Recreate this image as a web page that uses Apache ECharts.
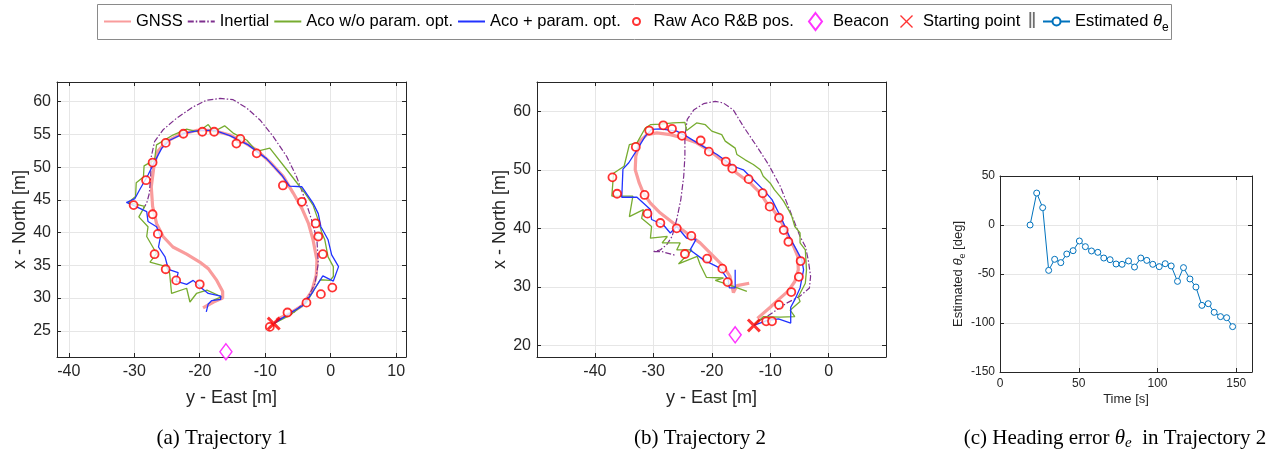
<!DOCTYPE html>
<html>
<head>
<meta charset="utf-8">
<script src="https://cdn.jsdelivr.net/npm/echarts@6/dist/echarts.min.js"></script>
<style>
  html, body { margin: 0; background: #fff; }
  #chart { width: 1283px; height: 449px; }
</style>
</head>
<body>
<div id="chart"></div>
<script>
// ---- Trajectory 1 : [East, North] in metres ----
const t1Gnss = [[-8.3,26.7],[-6.2,27.7],[-4.4,28.8],[-2.9,31.0],[-2.2,33.5],[-2.1,35.8],[-2.7,38.9],[-3.4,41.4],[-4.4,43.7],[-5.7,46.0],[-7.2,48.5],[-9.3,50.8],[-11.3,52.6],[-13.4,53.9],[-15.4,54.9],[-17.9,55.6],[-20.5,55.6],[-23.0,55.0],[-25.1,53.9],[-26.4,52.4],[-27.0,50.1],[-27.4,47.0],[-27.2,44.0],[-26.6,41.4],[-25.6,39.4],[-24.1,37.8],[-22.0,36.7],[-20.0,35.5],[-18.7,34.5],[-17.4,32.7],[-16.5,31.0],[-16.5,30.0],[-17.9,29.4],[-19.5,28.5]];
const t1Inertial = [[-8.3,26.6],[-5.7,27.7],[-3.7,29.7],[-2.4,32.2],[-1.9,35.3],[-2.1,38.9],[-2.9,41.9],[-3.9,45.0],[-5.2,48.5],[-6.7,51.6],[-8.8,54.7],[-10.8,57.2],[-12.8,59.0],[-14.9,60.3],[-16.9,60.5],[-19.0,60.2],[-21.0,59.2],[-23.5,57.5],[-25.6,55.7],[-26.9,53.9],[-27.4,51.6],[-27.5,48.5],[-27.7,46.0],[-28.1,44.5],[-28.6,43.7]];
const t1AcoNoOpt = [[-8.7,26.1],[-6.2,27.4],[-3.7,29.3],[-2.4,31.5],[-1.6,32.8],[-0.1,32.7],[0.4,33.3],[0.4,34.8],[-0.4,36.3],[-0.9,38.9],[-1.4,40.1],[-1.9,41.9],[-2.7,44.2],[-3.9,46.0],[-4.7,47.0],[-6.7,49.6],[-9.3,52.9],[-11.3,52.4],[-12.8,54.1],[-14.9,55.2],[-16.2,56.3],[-17.9,55.4],[-18.7,56.5],[-20.2,55.4],[-22.0,55.8],[-24.1,54.9],[-26.6,53.4],[-26.9,51.1],[-28.5,50.2],[-28.6,48.5],[-29.7,47.6],[-29.8,45.5],[-30.9,44.6],[-28.4,44.0],[-29.3,42.4],[-27.9,40.9],[-28.1,39.4],[-26.6,36.8],[-27.6,35.5],[-25.1,34.8],[-24.6,33.8],[-24.3,30.7],[-22.0,31.5],[-21.5,29.4],[-20.5,30.7],[-18.9,31.2],[-16.7,30.2],[-17.9,29.7]];
const t1AcoOpt = [[-8.7,26.1],[-6.2,27.7],[-4.2,28.9],[-2.7,31.0],[-1.2,33.4],[0.4,32.6],[1.2,34.8],[0.15,36.6],[-0.4,38.9],[-1.5,40.9],[-1.9,42.9],[-2.7,44.5],[-4.4,47.0],[-6.3,47.1],[-7.5,48.8],[-9.8,51.3],[-12.6,53.4],[-15.4,54.8],[-17.7,55.6],[-20.0,55.6],[-22.3,55.2],[-24.6,54.1],[-25.8,52.9],[-26.9,50.8],[-27.9,48.8],[-29.2,46.5],[-29.9,45.2],[-31.2,44.6],[-30.2,44.2],[-28.1,43.2],[-27.9,41.7],[-26.6,40.9],[-26.0,39.4],[-26.3,37.8],[-25.3,36.3],[-24.8,34.4],[-23.3,33.9],[-23.6,32.6],[-22.0,32.1],[-21.0,32.7],[-19.7,31.5],[-18.7,30.7],[-16.8,30.3],[-16.8,29.8],[-18.2,29.6],[-18.7,29.1],[-19.0,27.9]];
const t1RawPos = [[-30.1,44.2],[-28.2,48.0],[-27.2,50.7],[-25.2,53.7],[-22.5,55.1],[-19.6,55.4],[-17.8,55.4],[-13.8,54.3],[-14.4,53.6],[-11.3,52.1],[-7.3,47.2],[-4.4,44.7],[-2.3,41.4],[-1.9,39.4],[-1.2,36.7],[0.25,31.6],[-1.5,30.6],[-3.7,29.3],[-6.6,27.8],[-9.3,25.6],[-27.2,42.8],[-26.4,39.8],[-26.9,36.7],[-25.2,34.4],[-23.6,32.7],[-20.0,32.1]];
const t1Beacon = [[-16.0,21.8]];
const t1Start = [[-8.7,26.1]];

// ---- Trajectory 2 ----
const t2Gnss = [[-12.2,24.6],[-10.0,26.5],[-8.6,27.8],[-6.9,29.3],[-5.8,30.9],[-5.2,32.9],[-5.3,35.2],[-6.0,36.9],[-6.9,38.6],[-8.0,40.9],[-9.5,43.2],[-10.6,44.3],[-11.7,46.0],[-13.4,47.7],[-15.7,49.4],[-18.0,51.4],[-20.3,53.2],[-22.6,54.6],[-24.8,55.4],[-27.1,56.0],[-29.4,56.3],[-31.1,56.0],[-32.3,54.9],[-33.0,52.3],[-33.1,50.0],[-32.4,47.7],[-31.7,46.0],[-30.5,44.3],[-28.8,42.6],[-26.6,40.9],[-24.3,39.2],[-22.0,37.5],[-19.7,35.2],[-18.0,33.5],[-16.9,31.8],[-16.3,29.0],[-15.7,30.2],[-13.6,30.6]];
const t2Inertial = [[-12.2,24.1],[-10.6,24.9],[-7.2,27.2],[-4.9,28.4],[-3.3,29.8],[-3.1,31.8],[-3.5,34.6],[-4.0,36.9],[-4.9,38.6],[-5.8,40.9],[-6.9,43.7],[-8.3,47.2],[-10.3,50.9],[-12.3,54.0],[-14.6,57.4],[-16.3,60.2],[-18.0,61.4],[-19.4,61.7],[-21.4,61.3],[-23.1,60.2],[-24.2,58.6],[-24.6,55.7],[-24.6,52.3],[-24.8,48.9],[-25.3,44.9],[-26.0,41.5],[-26.8,38.6],[-27.7,37.2],[-28.8,36.3],[-30.1,36.0],[-28.5,36.0],[-26.3,35.4]];
const t2AcoNoOpt = [[-12.8,23.4],[-11.2,24.9],[-8.3,24.8],[-5.8,24.9],[-6.6,26.0],[-4.9,27.5],[-5.2,28.3],[-4.0,30.6],[-3.8,32.9],[-4.0,36.3],[-4.9,37.5],[-4.9,39.2],[-5.8,40.3],[-6.3,42.0],[-6.9,43.2],[-7.7,44.6],[-8.3,45.4],[-9.3,46.6],[-10.0,47.7],[-11.2,48.9],[-11.7,50.0],[-12.9,50.9],[-14.3,51.7],[-15.7,52.6],[-16.0,53.7],[-17.7,54.9],[-18.3,56.0],[-20.0,56.6],[-21.1,57.7],[-22.6,58.0],[-24.3,56.7],[-24.6,58.1],[-26.6,58.0],[-28.8,57.8],[-30.5,57.7],[-31.4,57.1],[-32.8,54.6],[-34.1,54.3],[-35.0,50.6],[-36.8,49.4],[-37.1,45.5],[-33.5,45.5],[-34.1,42.0],[-31.7,43.2],[-32.0,41.7],[-30.3,40.3],[-30.5,38.3],[-27.6,38.6],[-28.5,37.5],[-25.4,37.5],[-26.0,36.3],[-23.4,36.3],[-25.7,33.9],[-22.5,35.2],[-22.0,33.8],[-20.9,31.6],[-18.0,31.5],[-19.4,31.1],[-16.9,30.3],[-14.0,29.2]];
const t2AcoOpt = [[-12.8,23.4],[-10.6,24.2],[-8.6,24.5],[-6.5,23.8],[-6.5,26.5],[-5.8,27.8],[-4.9,29.8],[-4.3,32.9],[-4.6,34.6],[-5.5,36.3],[-6.6,38.3],[-8.0,41.5],[-9.7,44.9],[-11.2,46.6],[-12.9,48.3],[-14.6,50.0],[-16.3,50.6],[-19.1,52.6],[-22.0,54.3],[-24.3,55.7],[-26.0,56.6],[-28.8,57.0],[-30.3,56.9],[-31.4,55.7],[-32.8,53.4],[-34.2,51.2],[-35.2,50.1],[-35.4,45.3],[-32.8,45.3],[-30.5,43.2],[-30.3,41.5],[-28.3,40.6],[-27.1,39.2],[-26.0,40.3],[-24.3,38.3],[-22.7,38.1],[-23.7,36.3],[-21.4,34.6],[-18.6,33.2],[-17.2,31.2],[-17.0,29.8],[-16.0,29.8],[-16.0,32.9]];
const t2RawPos = [[-37.0,48.7],[-36.2,45.9],[-33.0,53.9],[-30.7,56.7],[-28.3,57.6],[-26.8,57.0],[-25.1,55.8],[-21.9,55.0],[-20.5,53.1],[-17.6,51.4],[-16.5,50.2],[-13.7,48.4],[-11.3,46.0],[-10.1,43.7],[-8.5,41.8],[-7.7,39.7],[-6.9,37.7],[-4.8,34.4],[-5.1,31.7],[-6.4,29.1],[-8.5,26.9],[-10.7,24.1],[-9.7,24.1],[-31.5,45.7],[-31.0,42.5],[-28.8,40.9],[-26.0,40.0],[-23.5,38.7],[-24.6,35.6],[-20.8,34.8],[-18.2,33.1],[-17.3,30.8]];
const t2Beacon = [[-16.0,21.8]];
const t2Start = [[-12.8,23.4]];

// ---- Heading error in trajectory 2 ----
const thetaTime = [19.1,23.3,27.1,30.9,34.7,38.6,42.4,46.4,50.4,54.2,58.1,62.1,65.9,69.9,73.7,77.5,81.6,85.4,89.4,93.2,97.0,101.1,104.9,108.7,112.7,116.5,120.6,124.4,128.2,132.2,136.0,140.0,143.9,147.7];
const thetaDeg = [0,32.6,17.7,-46.3,-35,-38.4,-29.6,-26.2,-16.3,-22.1,-26.5,-27.9,-33.7,-35.4,-39.8,-40.1,-36.7,-42.9,-33.7,-36.1,-40.1,-42.5,-39.5,-41.8,-57.5,-43.5,-55.1,-63.3,-82.0,-80.3,-89.1,-93.5,-94.6,-103.7];

const t1XTicks = [-40, -30, -20, -10, 0, 10];
const t1YTicks = [25, 30, 35, 40, 45, 50, 55, 60];
const t2XTicks = [-40, -30, -20, -10, 0];
const t2YTicks = [20, 30, 40, 50, 60];
const hXTicks = [0, 50, 100, 150];
const hYTicks = [-150, -100, -50, 0, 50];

const FONT = '"Liberation Sans", Arial, Helvetica, sans-serif';
const SERIF = '"Liberation Serif", "Times New Roman", serif';
const AX = '#262626';
const GRIDC = '#e6e6e6';
const C_GNSS = '#f99c9c', C_INS = '#7e2f8e', C_GREEN = '#77ac30', C_BLUE = '#2233ff';
const C_RED = '#ff0000', C_MAG = '#ff00ff', C_THETA = '#0072bd';
const X_BOLD = 'path://M3,0 L10,7 L17,0 L20,3 L13,10 L20,17 L17,20 L10,13 L3,20 L0,17 L7,10 L0,3 Z';
const X_THIN = 'path://M1.5,0 L10,8.5 L18.5,0 L20,1.5 L11.5,10 L20,18.5 L18.5,20 L10,11.5 L1.5,20 L0,18.5 L8.5,10 L0,1.5 Z';

const chart = echarts.init(document.getElementById('chart'));

function mainAxis(g, pos, min, max, ticks, fs, name, nfs, gap, margin) {
  return {
    type: 'value', gridIndex: g, position: pos, min: min, max: max,
    axisLine: { show: true, onZero: false, lineStyle: { color: AX, width: 1 } },
    axisTick: { show: true, inside: true, length: 4, customValues: ticks, lineStyle: { color: AX } },
    axisLabel: { customValues: ticks, color: AX, fontSize: fs, fontFamily: FONT, margin: margin },
    splitLine: { show: true, lineStyle: { color: GRIDC, width: 1 } },
    name: name, nameLocation: 'middle', nameGap: gap,
    nameTextStyle: { color: AX, fontSize: nfs, fontFamily: FONT }
  };
}
function sideAxis(g, pos, min, max, ticks) {
  return {
    type: 'value', gridIndex: g, position: pos, min: min, max: max,
    axisLine: { show: true, onZero: false, lineStyle: { color: AX, width: 1 } },
    axisTick: { show: true, inside: true, length: 4, customValues: ticks, lineStyle: { color: AX } },
    axisLabel: { show: false },
    splitLine: { show: false }
  };
}

const thetaRich = {
  a: { fontSize: 13, fontFamily: FONT, color: AX },
  b: { fontSize: 13, fontFamily: FONT, color: AX, fontStyle: 'italic' },
  c: { fontSize: 9, fontFamily: FONT, color: AX, padding: [8, 0, 0, 0] }
};

const yAxisTheta = mainAxis(2, 'left', -150, 50, hYTicks, 12, '{a|Estimated }{b|θ}{c|e}{a| [deg]}', 13, 33, 5);
yAxisTheta.nameTextStyle.rich = thetaRich;

function trajSeries(g, gnss, ins, noOpt, opt, raw, beacon, start) {
  const ax = { xAxisIndex: 2 * g, yAxisIndex: 2 * g };
  return [
    Object.assign({ name: 'GNSS', type: 'line', data: gnss, symbol: 'none', z: 2,
      lineStyle: { color: C_GNSS, width: 3.2 }, itemStyle: { color: C_GNSS } }, ax),
    Object.assign({ name: 'Inertial', type: 'line', data: ins, symbol: 'none', z: 3,
      lineStyle: { color: C_INS, width: 1.2, type: [6, 2, 1.5, 2] }, itemStyle: { color: C_INS } }, ax),
    Object.assign({ name: 'Aco w/o param. opt.', type: 'line', data: noOpt, symbol: 'none', z: 4,
      lineStyle: { color: C_GREEN, width: 1.3 }, itemStyle: { color: C_GREEN } }, ax),
    Object.assign({ name: 'Aco + param. opt.', type: 'line', data: opt, symbol: 'none', z: 5,
      lineStyle: { color: C_BLUE, width: 1.3 }, itemStyle: { color: C_BLUE } }, ax),
    Object.assign({ name: 'Raw Aco R&B pos.', type: 'scatter', data: raw, symbol: 'circle', symbolSize: 8, z: 6,
      itemStyle: { color: '#fff', borderColor: C_RED, borderWidth: 1.8 } }, ax),
    Object.assign({ name: 'Beacon', type: 'scatter', data: beacon, symbol: 'diamond', symbolSize: [12, 16], z: 6,
      itemStyle: { color: '#fff', borderColor: C_MAG, borderWidth: 1.5 } }, ax),
    Object.assign({ name: 'Starting point', type: 'scatter', data: start, symbol: X_BOLD, symbolSize: 14, z: 7,
      itemStyle: { color: C_RED } }, ax)
  ];
}

const legendText = { fontSize: 16.5, fontFamily: FONT, color: '#000' };
function padText(p) { return Object.assign({ padding: [0, 0, 0, p] }, legendText); }
const LEG_TOP = 13;

chart.setOption({
  animation: false,
  backgroundColor: '#fff',
  grid: [
    { left: 57, top: 82, width: 349, height: 275 },
    { left: 537, top: 82, width: 349, height: 275 },
    { left: 1000, top: 176, width: 252, height: 196 }
  ],
  xAxis: [
    mainAxis(0, 'bottom', -41.8, 11.5, t1XTicks, 16, 'y - East [m]', 18, 32, 7),
    sideAxis(0, 'top', -41.8, 11.5, t1XTicks),
    mainAxis(1, 'bottom', -49.9, 9.8, t2XTicks, 16, 'y - East [m]', 18, 32, 7),
    sideAxis(1, 'top', -49.9, 9.8, t2XTicks),
    mainAxis(2, 'bottom', 0, 160, hXTicks, 12, 'Time [s]', 13, 21, 6),
    sideAxis(2, 'top', 0, 160, hXTicks)
  ],
  yAxis: [
    mainAxis(0, 'left', 21, 63, t1YTicks, 16, 'x - North [m]', 18, 28, 6),
    sideAxis(0, 'right', 21, 63, t1YTicks),
    mainAxis(1, 'left', 18, 65, t2YTicks, 16, 'x - North [m]', 18, 28, 6),
    sideAxis(1, 'right', 18, 65, t2YTicks),
    yAxisTheta,
    sideAxis(2, 'right', -150, 50, hYTicks)
  ],
  legend: [
    { data: ['GNSS', 'Inertial', 'Aco w/o param. opt.', 'Aco + param. opt.'], left: 103, top: LEG_TOP, padding: 0,
      itemWidth: 27, itemHeight: 14, itemGap: 4, itemStyle: { opacity: 0 }, textStyle: legendText },
    { data: ['Raw Aco R&B pos.'], left: 632, top: LEG_TOP, padding: 0, itemWidth: 10, itemHeight: 7,
      textStyle: padText(7) },
    { data: ['Beacon'], left: 808, top: LEG_TOP - 1, padding: 0, itemWidth: 13, itemHeight: 17,
      textStyle: padText(6) },
    { data: [{ name: 'Starting point', icon: X_THIN }], left: 900, top: LEG_TOP, padding: 0, itemWidth: 13, itemHeight: 13,
      textStyle: padText(5) },
    { data: ['Estimated θe'], left: 1042, top: LEG_TOP, padding: 0, itemWidth: 27, itemHeight: 10,
      formatter: function () { return '{a|Estimated }{b|θ}{c|e}'; },
      textStyle: Object.assign({}, legendText, { rich: {
        a: { fontSize: 16.5, fontFamily: FONT, color: '#000' },
        b: { fontSize: 16.5, fontFamily: FONT, color: '#000', fontStyle: 'italic' },
        c: { fontSize: 12, fontFamily: FONT, color: '#000', padding: [13, 0, 0, 0] }
      } }) }
  ],
  graphic: [
    { type: 'rect', z: 0, shape: { x: 97.5, y: 4.5, width: 1074, height: 35 },
      style: { fill: '#fff', stroke: '#8a8a8a', lineWidth: 1 } },
    { type: 'text', z: 5, x: 1032, y: 22,
      style: { text: '‖', font: '22px ' + FONT, fill: '#6e6e6e', textAlign: 'center', textVerticalAlign: 'middle' } },
    { type: 'text', z: 5, x: 222, y: 438,
      style: { text: '(a) Trajectory 1', font: '21px ' + SERIF, fill: '#000', textAlign: 'center', textVerticalAlign: 'middle' } },
    { type: 'text', z: 5, x: 700, y: 438,
      style: { text: '(b) Trajectory 2', font: '21px ' + SERIF, fill: '#000', textAlign: 'center', textVerticalAlign: 'middle' } },
    { type: 'text', z: 5, x: 1115, y: 438,
      style: { text: '{n|(c) Heading error }{i|θ}{s|e}{n|  in Trajectory 2}',
        textAlign: 'center', textVerticalAlign: 'middle',
        rich: {
          n: { fontSize: 21, fontFamily: SERIF, fill: '#000' },
          i: { fontSize: 21, fontFamily: SERIF, fontStyle: 'italic', fill: '#000' },
          s: { fontSize: 15, fontFamily: SERIF, fontStyle: 'italic', fill: '#000', padding: [10, 0, 0, 0] }
        } } }
  ],
  series: [].concat(
    trajSeries(0, t1Gnss, t1Inertial, t1AcoNoOpt, t1AcoOpt, t1RawPos, t1Beacon, t1Start),
    trajSeries(1, t2Gnss, t2Inertial, t2AcoNoOpt, t2AcoOpt, t2RawPos, t2Beacon, t2Start),
    [{
      name: 'Estimated θe', type: 'line', xAxisIndex: 4, yAxisIndex: 4,
      data: thetaTime.map((t, i) => [t, thetaDeg[i]]),
      symbol: 'circle', symbolSize: 6, showSymbol: true,
      lineStyle: { color: C_THETA, width: 1 },
      itemStyle: { color: '#fff', borderColor: C_THETA, borderWidth: 1 }
    }]
  )
});
</script>
</body>
</html>
